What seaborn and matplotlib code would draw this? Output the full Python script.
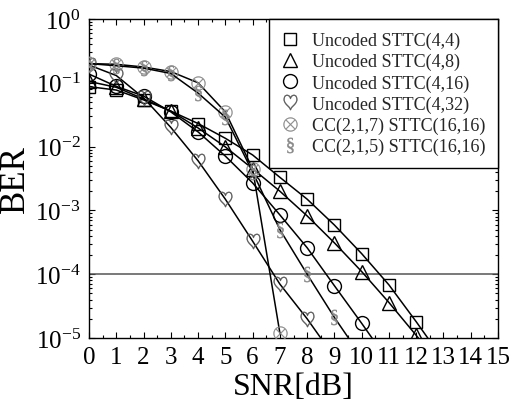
import numpy as np
import pandas as pd
import matplotlib
matplotlib.use("Agg")
import matplotlib.pyplot as plt
from matplotlib.lines import Line2D
from matplotlib.ticker import MultipleLocator, LogLocator, NullFormatter
import seaborn as sns

# ---- data ----
snr_44 = [0, 1, 2, 3, 4, 5, 6, 7, 8, 9, 10, 11, 12, 13]
ber_44 = [0.087, 0.077, 0.054, 0.036, 0.023, 0.0135, 0.0074, 0.0033, 0.0015,
          5.9e-4, 2.1e-4, 6.8e-5, 1.8e-5, 4.5e-6]
snr_48 = [0, 1, 2, 3, 4, 5, 6, 7, 8, 9, 10, 11, 12, 13]
ber_48 = [0.105, 0.085, 0.056, 0.036, 0.0196, 0.0099, 0.0045, 0.002, 8.2e-4,
          3.1e-4, 1.1e-4, 3.6e-5, 1.1e-5, 3.2e-6]
snr_416 = [0, 1, 2, 3, 4, 5, 6, 7, 8, 9, 10, 11]
ber_416 = [0.137, 0.088, 0.062, 0.035, 0.017, 0.0071, 0.0027, 8.5e-4, 2.6e-4,
           6.6e-5, 1.7e-5, 4.2e-6]
snr_432 = [0, 1, 2, 3, 4, 5, 6, 7, 8, 9]
ber_432 = [0.19, 0.13, 0.058, 0.02, 0.006, 0.0015, 3.3e-4, 7e-5, 2e-5, 5e-6]
snr_cc7 = [0, 1, 2, 3, 4, 5, 6, 7]
ber_cc7 = [0.2, 0.195, 0.177, 0.15, 0.1, 0.035, 0.0045, 1.2e-5]
snr_cc5 = [0, 1, 2, 3, 4, 5, 6, 7, 8, 9, 10]
ber_cc5 = [0.2, 0.185, 0.17, 0.14, 0.069, 0.029, 0.004, 5e-4, 1e-4, 2.1e-5, 5e-6]

labels = ["Uncoded STTC(4,4)", "Uncoded STTC(4,8)", "Uncoded STTC(4,16)",
          "Uncoded STTC(4,32)", "CC(2,1,7) STTC(16,16)", "CC(2,1,5) STTC(16,16)"]
target_ber = 1e-4
x_ticks = list(range(0, 16))

# ---- style ----
sns.set_theme(style="ticks")
plt.rcParams["font.family"] = ["Liberation Serif", "DejaVu Serif"]
plt.rcParams["mathtext.fontset"] = "custom"
plt.rcParams["mathtext.rm"] = "Liberation Serif"
plt.rcParams["mathtext.it"] = "Liberation Serif:italic"
plt.rcParams["mathtext.bf"] = "Liberation Serif:bold"

fig = plt.figure(figsize=(5.09, 4.06), dpi=100)
ax = fig.add_axes([89/509, 1-339/406, (498-89)/509, (339-20)/406])

series = [
    (snr_44, ber_44, dict(marker="s", ms=9, mfc="none", mec="black", mew=1.0)),
    (snr_48, ber_48, dict(marker="^", ms=9.5, mfc="none", mec="black", mew=1.0)),
    (snr_416, ber_416, dict(marker="o", ms=10, mfc="none", mec="black", mew=1.0)),
    (snr_432, ber_432, dict(marker=r"$\heartsuit$", ms=11, mfc="#555555", mec="#555555", mew=0.3)),
    (snr_cc7, ber_cc7, dict(marker=r"$\otimes$", ms=10, mfc="#888888", mec="#888888", mew=0.3)),
    (snr_cc5, ber_cc5, dict(marker=r"$\S$", ms=11, mfc="#888888", mec="#888888", mew=0.3)),
]

handles = []
for (xs, ys, mk), lab in zip(series, labels):
    df = pd.DataFrame({"snr": xs, "ber": ys})
    sns.lineplot(data=df, x="snr", y="ber", ax=ax, color="black", lw=1.1,
                 sort=False, estimator=None, legend=False, zorder=3, **mk)
    handles.append(Line2D([], [], linestyle="none", color="black", **mk))

ax.axhline(target_ber, color="#555555", lw=1.1, zorder=2)

ax.set_yscale("log")
ax.set_xlim(0, 15)
ax.set_ylim(1e-5, 1)
ax.set_xticks(x_ticks)
ax.xaxis.set_minor_locator(MultipleLocator(0.5))
ax.yaxis.set_major_locator(LogLocator(base=10, numticks=10))
ax.yaxis.set_minor_locator(LogLocator(base=10, subs=np.arange(2, 10), numticks=20))
ax.yaxis.set_minor_formatter(NullFormatter())
ax.tick_params(which="both", direction="in", top=True, right=True,
               colors="black", width=0.8)
ax.tick_params(which="major", length=4, labelsize=18, pad=6)
ax.tick_params(which="minor", length=2)
for lab in ax.get_xticklabels() + ax.get_yticklabels():
    lab.set_color("black")
for s in ax.spines.values():
    s.set_color("black")
    s.set_linewidth(1.0)

ax.set_xlabel("SNR[dB]", fontsize=23, labelpad=3, color="black")
ax.set_ylabel("BER", fontsize=25, labelpad=2, color="black")

leg = ax.legend(handles, labels, loc="upper right", borderaxespad=0,
                fontsize=13, frameon=True, fancybox=False, edgecolor="black",
                framealpha=1, handlelength=1.0, handletextpad=0.7,
                labelspacing=0.22, borderpad=0.7)
leg.get_frame().set_linewidth(1.0)

fig.savefig("out.png", dpi=100)
